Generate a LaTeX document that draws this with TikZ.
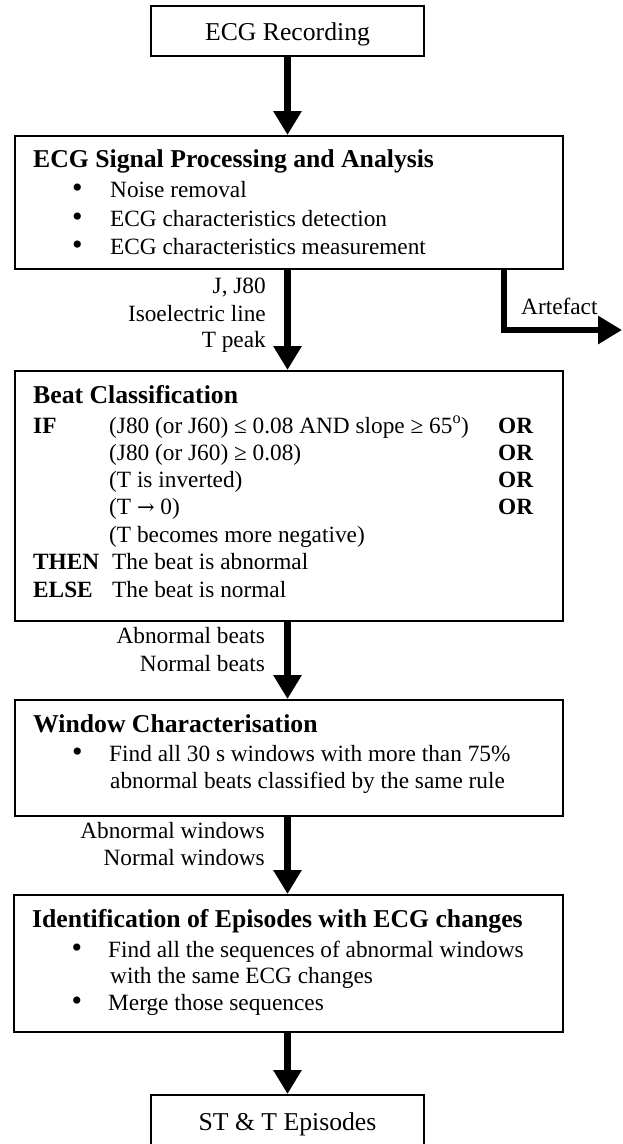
\documentclass[tikz,border=0pt]{standalone}
\usepackage{fontspec}
\setmainfont{Liberation Serif}
\newfontfamily\myArrowFont{DejaVu Serif}
\usetikzlibrary{arrows.meta}
\newcommand\myBody{\fontsize{23.3}{27}\selectfont}
\newcommand\myTitle{\fontsize{25.7}{29}\selectfont\bfseries}
\newcommand\myBig{\fontsize{25.7}{29}\selectfont}
\begin{document}
\begin{tikzpicture}[x=1pt,y=-1pt,
  box/.style={draw, line width=2pt, inner sep=0pt},
  txt/.style={anchor=base west, inner sep=0pt, font=\myBody},
  btxt/.style={anchor=base west, inner sep=0pt, font=\myBody\bfseries},
  rtxt/.style={anchor=base east, inner sep=0pt, font=\myBody},
  ttl/.style={anchor=base west, inner sep=0pt, font=\myTitle},
  ctxt/.style={anchor=base, inner sep=0pt, font=\myBig},
  bul/.style={anchor=base, inner sep=0pt, font=\fontsize{30}{30}\selectfont},
  flow/.style={line width=6.5pt, -{Triangle[width=27pt,length=24pt]}},
]
\useasboundingbox (0,0) rectangle (623,1144);

% boxes
\node[box, minimum width=273pt, minimum height=50pt] (b1) at (287.5,31) {};
\node[box, minimum width=548pt, minimum height=133pt] (b2) at (289,202.5) {};
\node[box, minimum width=548pt, minimum height=250pt] (b3) at (289,496) {};
\node[box, minimum width=548pt, minimum height=116pt] (b4) at (289,758) {};
\node[box, minimum width=549pt, minimum height=137pt] (b5) at (288.5,963.5) {};
\node[box, minimum width=273pt, minimum height=52pt] (b6) at (287.5,1121) {};

% box 1
\node[ctxt] (t1) at (287.5,40) {ECG Recording};

% box 2
\node[ttl] (t2) at (33,167) {ECG Signal Processing and Analysis};
\node[bul] (u21) at (77.5,197) {•};
\node[txt] (t21) at (110,197) {Noise removal};
\node[bul] (u22) at (77.5,226) {•};
\node[txt] (t22) at (110,226) {ECG characteristics detection};
\node[bul] (u23) at (77.5,254) {•};
\node[txt] (t23) at (110,254) {ECG characteristics measurement};

% labels arrow 2
\node[rtxt] (l21) at (266,293) {J, J80};
\node[rtxt] (l22) at (266,321) {Isoelectric line};
\node[rtxt] (l23) at (266,347) {T peak};
\node[txt] (art) at (521,314) {Artefact};

% box 3
\node[ttl] (t3) at (33,403) {Beat Classification};
\node[btxt] (if) at (33,433) {IF};
\node[txt] (c1) at (109,433) {(J80 (or J60) ≤ 0.08 AND slope ≥ 65\textsuperscript{o})};
\node[btxt] (o1) at (498,433) {OR};
\node[txt] (c2) at (109,460) {(J80 (or J60) ≥ 0.08)};
\node[btxt] (o2) at (498,460) {OR};
\node[txt] (c3) at (109,487) {(T is inverted)};
\node[btxt] (o3) at (498,487) {OR};
\node[txt] (c4) at (109,514) {(T {\myArrowFont\fontsize{21}{24}\selectfont →} 0)};
\node[btxt] (o4) at (498,514) {OR};
\node[txt] (c5) at (109,542) {(T becomes more negative)};
\node[btxt] (then) at (33,569) {THEN};
\node[txt] (tc) at (112,569) {The beat is abnormal};
\node[btxt] (else) at (33,597) {ELSE};
\node[txt] (ec) at (112,597) {The beat is normal};

% labels arrow 3
\node[rtxt] (l31) at (265,643) {Abnormal beats};
\node[rtxt] (l32) at (265,671) {Normal beats};

% box 4
\node[ttl] (t4) at (33,732) {Window Characterisation};
\node[bul] (u41) at (77.5,761) {•};
\node[txt] (t41) at (109,761) {Find all 30 s windows with more than 75\%};
\node[txt] (t42) at (110,788) {abnormal beats classified by the same rule};

% labels arrow 4
\node[rtxt] (l41) at (265,838) {Abnormal windows};
\node[rtxt] (l42) at (265,865) {Normal windows};

% box 5
\node[ttl] (t5) at (32,927) {Identification of Episodes with ECG changes};
\node[bul] (u51) at (77,957) {•};
\node[txt] (t51) at (108,957) {Find all the sequences of abnormal windows};
\node[txt] (t52) at (110,983) {with the same ECG changes};
\node[bul] (u52) at (77,1010) {•};
\node[txt] (t53) at (108,1010) {Merge those sequences};

% box 6
\node[ctxt] (t6) at (287.5,1130) {ST \& T Episodes};

% connectors
\coordinate (artc) at (504,330);
\coordinate (arte) at (622,330);
\draw[flow] (b1.south) -- (b1.south |- b2.north);
\draw[flow] (b1.south |- b2.south) -- (b1.south |- b3.north);
\draw[flow] (b2.south -| artc) -- (artc) -- (arte);
\draw[flow] (b1.south |- b3.south) -- (b1.south |- b4.north);
\draw[flow] (b1.south |- b4.south) -- (b1.south |- b5.north);
\draw[flow] (b1.south |- b5.south) -- (b6.north);
\end{tikzpicture}
\end{document}
